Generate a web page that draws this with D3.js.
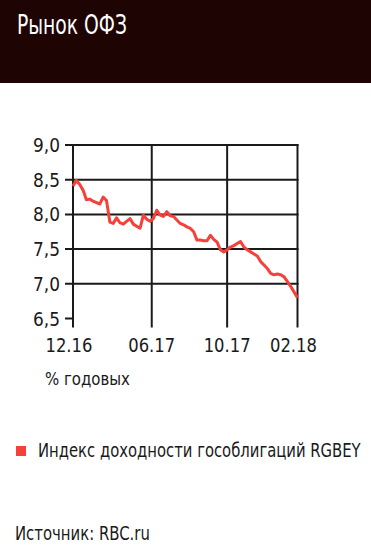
<!DOCTYPE html>
<html>
<head>
<meta charset="utf-8">
<script src="https://cdn.jsdelivr.net/npm/d3@7"></script>
<style>
  body { margin: 0; background: #fff; }
  text { font-family: "DejaVu Sans Condensed", "DejaVu Sans", sans-serif; }
  .grid line { stroke: #1a1a1a; stroke-width: 2; }
  .tick-label { font-size: 20px; fill: #1a1a1a; }
</style>
</head>
<body>
<div id="chart"></div>
<script>
// Индекс доходности гособлигаций RGBEY, % годовых
var values = [8.41, 8.49, 8.43, 8.35, 8.21, 8.22, 8.19, 8.17, 8.15, 8.25,
    8.20, 7.89, 7.87, 7.95, 7.88, 7.86, 7.90, 7.94, 7.86, 7.83,
    7.80, 7.99, 7.93, 7.90, 7.94, 8.06, 7.99, 7.97, 8.04, 7.98,
    7.97, 7.92, 7.87, 7.85, 7.82, 7.80, 7.75, 7.63, 7.63, 7.62,
    7.62, 7.70, 7.64, 7.60, 7.49, 7.46, 7.49, 7.53, 7.55, 7.58,
    7.61, 7.53, 7.49, 7.46, 7.43, 7.40, 7.32, 7.27, 7.22, 7.15,
    7.13, 7.14, 7.13, 7.10, 7.03, 6.96, 6.88, 6.80],
    xTickLabels = ["12.16", "06.17", "10.17", "02.18"],
    xTickPos = [0, 23.5, 46, 67],   // position on the trading-day index
    yTicks = [6.5, 7.0, 7.5, 8.0, 8.5, 9.0];

var widthGlobal = 371,
    heightGlobal = 552,
    plot = {left: 73, right: 297.5, top: 145, bottom: 318.5},
    red = "#f5413a",
    fmt = function (d) { return d3.format(".1f")(d).replace(".", ","); },

    x = d3.scaleLinear()
        .domain([0, values.length - 1])
        .range([plot.left, plot.right]),
    y = d3.scaleLinear()
        .domain([6.5, 9.0])
        .range([plot.bottom, plot.top]),

    svg = d3.select("#chart")
        .append("svg")
        .attr("width", widthGlobal)
        .attr("height", heightGlobal);

// condensed look: squeeze a text horizontally to a given width
function squeeze(t, px, py, w) {
    var natural = t.node().getComputedTextLength();
    t.attr("x", 0).attr("y", 0)
        .attr("transform", "translate(" + px + "," + py + ") scale(" + (w / natural) + ",1)");
    return t;
}

// header
svg.append("rect")
    .attr("x", 0).attr("y", 0)
    .attr("width", widthGlobal).attr("height", 83)
    .attr("fill", "#1e0503");
squeeze(svg.append("text")
    .attr("fill", "#fff")
    .style("font-size", "26px")
    .text("Рынок ОФЗ"), 17, 34, 110);

// horizontal grid (no line at 6,5, only the tick)
var grid = svg.append("g").attr("class", "grid");
grid.selectAll(".hline")
    .data(yTicks)
    .enter().append("line")
    .attr("x1", plot.left - 8)
    .attr("x2", function (d) { return d === 6.5 ? plot.left : plot.right + 1; })
    .attr("y1", function (d) { return y(d); })
    .attr("y2", function (d) { return y(d); });

// vertical grid + ticks below
grid.selectAll(".vline")
    .data(xTickPos)
    .enter().append("line")
    .attr("x1", function (d) { return x(d); })
    .attr("x2", function (d) { return x(d); })
    .attr("y1", plot.top - 1)
    .attr("y2", plot.bottom + 9);

svg.append("g").selectAll("text")
    .data(yTicks)
    .enter().append("text")
    .attr("class", "tick-label")
    .text(fmt)
    .each(function (d) { squeeze(d3.select(this), 33, y(d) + 7, 27); });

svg.append("g").selectAll("text")
    .data(xTickPos)
    .enter().append("text")
    .attr("class", "tick-label")
    .text(function (d, i) { return xTickLabels[i]; })
    .each(function (d, i) {
        var shift = (i === 0 || i === xTickPos.length - 1) ? -4 : 0;
        squeeze(d3.select(this), x(d) - 23.5 + shift, 352, 47);
    });

squeeze(svg.append("text")
    .attr("fill", "#1a1a1a")
    .style("font-size", "18px")
    .text("% годовых"), 45, 385, 85);

// series
var line = d3.line()
    .x(function (d, i) { return x(i); })
    .y(function (d) { return y(d); });
svg.append("path")
    .datum(values)
    .attr("d", line)
    .attr("fill", "none")
    .attr("stroke", red)
    .attr("stroke-width", 3)
    .attr("stroke-linejoin", "round");

// legend
svg.append("rect")
    .attr("x", 16).attr("y", 446)
    .attr("width", 10).attr("height", 10)
    .attr("fill", red);
squeeze(svg.append("text")
    .attr("fill", "#1a1a1a")
    .style("font-size", "19px")
    .text("Индекс доходности гособлигаций RGBEY"), 38, 457, 323);

// source
squeeze(svg.append("text")
    .attr("fill", "#1a1a1a")
    .style("font-size", "19px")
    .text("Источник: RBC.ru"), 15, 540, 135);
</script>
</body>
</html>
